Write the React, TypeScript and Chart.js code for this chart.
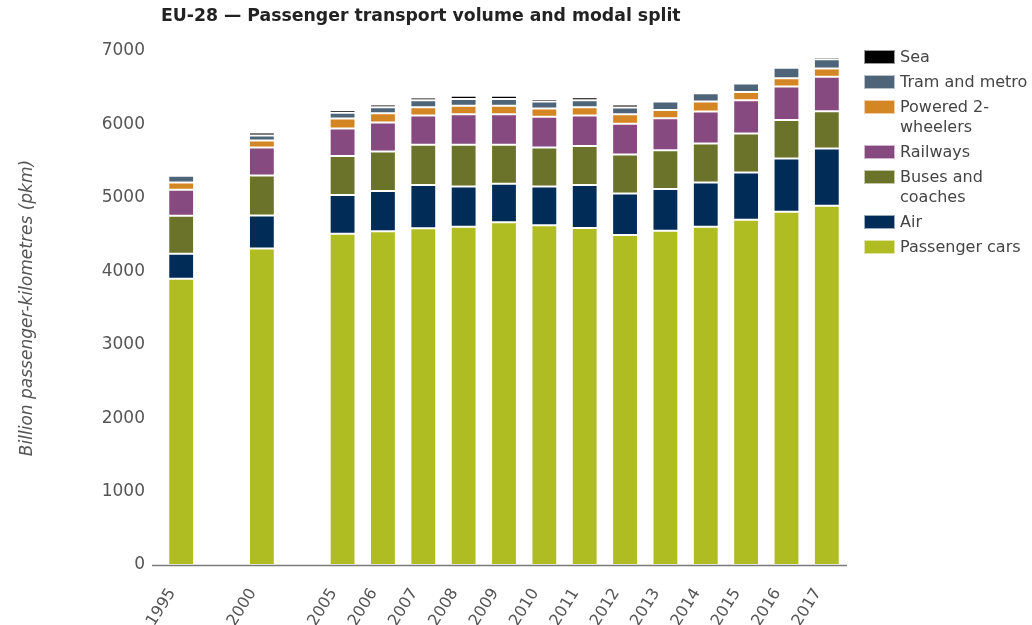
import React, { useEffect, useRef } from "react";
import { Chart, registerables } from "chart.js";

Chart.register(...registerables);

const years = ["1995", "", "2000", "", "2005", "2006", "2007", "2008", "2009", "2010", "2011", "2012", "2013", "2014", "2015", "2016", "2017"];

const passengerCars = [3900, null, 4310, null, 4510, 4545, 4585, 4608, 4667, 4626, 4590, 4495, 4553, 4608, 4703, 4812, 4893];
const air = [340, null, 450, null, 530, 550, 590, 548, 525, 530, 585, 566, 567, 602, 643, 724, 779];
const busesCoaches = [515, null, 545, null, 530, 535, 548, 567, 531, 530, 530, 529, 530, 530, 530, 526, 509];
const railways = [355, null, 380, null, 375, 395, 398, 417, 417, 417, 416, 418, 435, 435, 454, 453, 470];
const poweredTwoWheelers = [100, null, 95, null, 135, 127, 114, 113, 113, 113, 114, 132, 113, 136, 113, 114, 109];
const tramMetro = [90, null, 70, null, 80, 82, 95, 95, 95, 95, 95, 90, 113, 114, 113, 144, 127];
const sea = [30, null, 40, null, 36, 36, 36, 41, 41, 37, 41, 41, 19, 18, 19, 10, 32];

const yTicks = [0, 1000, 2000, 3000, 4000, 5000, 6000, 7000];

const seriesNames = ["Passenger cars", "Air", "Buses and coaches", "Railways", "Powered 2-wheelers", "Tram and metro", "Sea"];
const seriesColors = ["#afbc22", "#002c57", "#6a7329", "#864a80", "#d58624", "#4e6479", "#000000"];
const seriesData = [passengerCars, air, busesCoaches, railways, poweredTwoWheelers, tramMetro, sea];

const legendItems = [
  { label: ["Sea"], color: "#000000" },
  { label: ["Tram and metro"], color: "#4e6479" },
  { label: ["Powered 2-", "wheelers"], color: "#d58624" },
  { label: ["Railways"], color: "#864a80" },
  { label: ["Buses and", "coaches"], color: "#6a7329" },
  { label: ["Air"], color: "#002c57" },
  { label: ["Passenger cars"], color: "#afbc22" },
];

const FONT = "'DejaVu Sans', Verdana, sans-serif";

const axisLinePlugin = {
  id: "axisLine",
  afterDatasetsDraw(chart: any) {
    const { ctx, chartArea } = chart;
    ctx.save();
    ctx.strokeStyle = "#7a7a7a";
    ctx.lineWidth = 1.5;
    ctx.beginPath();
    ctx.moveTo(chartArea.left - 9, chartArea.bottom + 0.5);
    ctx.lineTo(chartArea.right, chartArea.bottom + 0.5);
    ctx.stroke();
    ctx.restore();
  },
};

export default function App() {
  const ref = useRef<HTMLCanvasElement>(null);

  useEffect(() => {
    if (!ref.current) return;
    const chart = new Chart(ref.current, {
      type: "bar",
      data: {
        labels: years,
        datasets: seriesNames.map((name, i) => ({
          label: name,
          data: seriesData[i],
          backgroundColor: seriesColors[i],
          borderColor: "rgba(255,255,255,0.65)",
          borderWidth: 1,
          borderSkipped: false,
          categoryPercentage: 1,
          barPercentage: 0.64,
        })),
      },
      plugins: [axisLinePlugin],
      options: {
        animation: false,
        responsive: false,
        maintainAspectRatio: false,
        layout: { padding: { top: 51, right: 185, left: 0, bottom: 0 } },
        plugins: {
          legend: { display: false },
          title: { display: false },
          tooltip: { enabled: false },
        },
        scales: {
          x: {
            stacked: true,
            grid: { display: false },
            border: { display: false },
            ticks: {
              autoSkip: false,
              minRotation: 58,
              maxRotation: 58,
              color: "#555",
              font: { family: FONT, size: 16 },
              padding: 12,
              labelOffset: -9,
            },
            afterFit(scale: any) {
              scale.height = 60;
            },
          },
          y: {
            stacked: true,
            min: 0,
            max: 7000,
            grid: { display: false },
            border: { display: false },
            afterBuildTicks(scale: any) {
              scale.ticks = yTicks.map((v) => ({ value: v }));
            },
            ticks: {
              color: "#555",
              font: { family: FONT, size: 17 },
              padding: 8,
              callback: (v: any) => String(v),
            },
            title: {
              display: true,
              text: "Billion passenger-kilometres (pkm)",
              color: "#555",
              font: { family: FONT, size: 17, style: "italic" },
              padding: { top: 17, bottom: 0 },
            },
            afterFit(scale: any) {
              scale.width = 161;
            },
          },
        },
      },
    });
    return () => chart.destroy();
  }, []);

  return (
    <div style={{ position: "fixed", left: 0, top: 0, width: 1032, height: 625, background: "#fff", fontFamily: FONT }}>
      <canvas ref={ref} width={1032} height={625} style={{ position: "absolute", left: 0, top: 0, width: 1032, height: 625 }} />
      <div style={{ position: "absolute", left: 161, top: 5, fontSize: 17.3, fontWeight: "bold", color: "#222", whiteSpace: "nowrap", lineHeight: "20px" }}>
        EU-28 — Passenger transport volume and modal split
      </div>
      <div style={{ position: "absolute", left: 864, top: 47 }}>
        {legendItems.map((it, i) => (
          <div key={i} style={{ display: "flex", alignItems: "flex-start", marginBottom: 5 }}>
            <div style={{ width: 31, height: 14, marginTop: 3, background: it.color, border: "1px solid rgba(255,255,255,0.6)", boxSizing: "border-box" }} />
            <div style={{ marginLeft: 5, fontSize: 16, lineHeight: "20px", color: "#444", whiteSpace: "nowrap" }}>
              {it.label.map((l, j) => (
                <div key={j}>{l}</div>
              ))}
            </div>
          </div>
        ))}
      </div>
    </div>
  );
}
